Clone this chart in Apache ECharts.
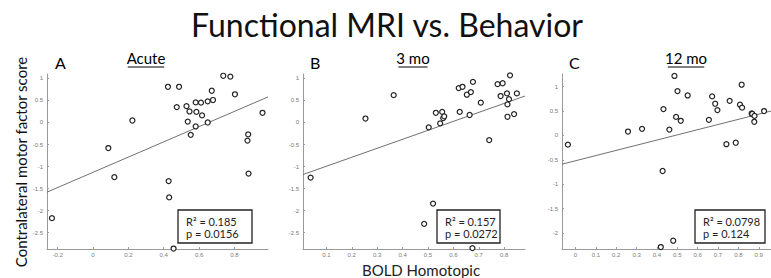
<!DOCTYPE html>
<html>
<head>
<meta charset="utf-8">
<script src="https://cdn.jsdelivr.net/npm/echarts@6/dist/echarts.min.js"></script>
<style>
  html, body { margin: 0; padding: 0; background: #fff; }
  #chart { width: 771px; height: 278px; }
</style>
</head>
<body>
<div id="chart"></div>
<script>
// values
const acuteX = [-0.232, 0.087, 0.121, 0.223, 0.424, 0.487, 0.474, 0.529, 0.546, 0.536, 0.553, 0.581, 0.611, 0.585, 0.581,
    0.617, 0.649, 0.649, 0.672, 0.679, 0.737, 0.777, 0.803, 0.959, 0.878, 0.874, 0.88, 0.428, 0.431, 0.456];
const acuteY = [-2.17, -0.58, -1.24, 0.045, 0.81, 0.81, 0.35, 0.37, 0.25, 0.02, -0.28, 0.455, 0.45, 0.24, -0.09,
    0.16, 0.48, 0.0, 0.72, 0.51, 1.06, 1.04, 0.64, 0.22, -0.27, -0.41, -1.16, -1.33, -1.70, -2.86];

const mo3X = [0.038, 0.254, 0.365, 0.503, 0.531, 0.548, 0.556, 0.56, 0.564, 0.621, 0.636, 0.677, 0.653, 0.669, 0.625, 0.664,
    0.708, 0.741, 0.774, 0.794, 0.823, 0.786, 0.811, 0.819, 0.813, 0.813, 0.839, 0.85, 0.52, 0.485, 0.675];
const mo3Y = [-1.25, 0.09, 0.62, -0.11, 0.22, -0.02, 0.24, 0.10, 0.14, 0.78, 0.81, 0.92, 0.63, 0.69, 0.24, 0.17,
    0.45, -0.40, 0.87, 0.89, 1.07, 0.60, 0.66, 0.53, 0.41, 0.13, 0.19, 0.66, -1.84, -2.30, -2.85];

const mo12X = [-0.037, 0.258, 0.327, 0.432, 0.428, 0.461, 0.486, 0.501, 0.494, 0.517, 0.551, 0.655, 0.671, 0.686,
    0.697, 0.757, 0.741, 0.787, 0.816, 0.808, 0.818, 0.865, 0.868, 0.879, 0.878, 0.926, 0.419, 0.48];
const mo12Y = [-0.19, 0.08, 0.135, 0.54, -0.73, 0.12, 1.22, 0.91, 0.38, 0.30, 0.82, 0.32, 0.80, 0.65,
    0.52, 0.71, -0.18, -0.15, 1.04, 0.63, 0.57, 0.45, 0.44, 0.40, 0.28, 0.50, -2.29, -2.16];

// regression line end points
const acuteFit = [[-0.26, -1.58], [0.99, 0.58]];
const mo3Fit = [[0.008, -1.18], [0.882, 0.60]];
const mo12Fit = [[-0.066, -0.59], [0.96, 0.50]];

const panelNames = ['Acute', '3 mo', '12 mo'];
const panelLetters = ['A', 'B', 'C'];
const rSquared = ['0.185', '0.157', '0.0798'];
const pValues = ['0.0156', '0.0272', '0.124'];

const ticksAX = [-0.2, 0, 0.2, 0.4, 0.6, 0.8];
const ticksBX = [0.1, 0.2, 0.3, 0.4, 0.5, 0.6, 0.7, 0.8];
const ticksCX = [0, 0.1, 0.2, 0.3, 0.4, 0.5, 0.6, 0.7, 0.8, 0.9];
const ticksABY = [1, 0.5, 0, -0.5, -1, -1.5, -2, -2.5];
const ticksCY = [1, 0.5, 0, -0.5, -1, -1.5, -2];

const font = 'Lato, "Open Sans", sans-serif';

function pairs(xs, ys) {
    return xs.map((x, i) => [x, ys[i]]);
}

function makeAxis(min, max, ticks, grid, isY) {
    return {
        type: 'value',
        gridIndex: grid,
        min: min,
        max: max,
        axisLine: { show: true, onZero: false, lineStyle: { color: '#9a9a9a', width: 1 } },
        axisTick: { show: true, inside: true, length: 2, customValues: ticks, lineStyle: { color: '#9a9a9a' } },
        axisLabel: {
            customValues: ticks,
            fontSize: 6,
            color: '#7a7a7a',
            fontFamily: 'Arial, sans-serif',
            margin: isY ? 4 : 3
        },
        splitLine: { show: false }
    };
}

function scatter(data, idx) {
    return {
        type: 'scatter',
        xAxisIndex: idx,
        yAxisIndex: idx,
        data: data,
        symbol: 'circle',
        symbolSize: 5,
        itemStyle: { color: '#fff', borderColor: '#222', borderWidth: 1.2, opacity: 1 },
        emphasis: { disabled: true },
        z: 3
    };
}

function fitLine(data, idx) {
    return {
        type: 'line',
        xAxisIndex: idx,
        yAxisIndex: idx,
        data: data,
        showSymbol: false,
        lineStyle: { color: '#707070', width: 1 },
        z: 2
    };
}

// panel label, underlined name and stats box
const panelLayout = [
    { letterX: 55, nameX: 146, boxX: 178, boxW: 74 },
    { letterX: 310, nameX: 413, boxX: 437, boxW: 63 },
    { letterX: 569, nameX: 686, boxX: 695, boxW: 70 }
];

const graphics = [];
panelLayout.forEach((p, i) => {
    graphics.push({
        type: 'text', left: p.letterX, top: 54,
        style: { text: panelLetters[i], font: '16px ' + font, fill: '#000' }
    });
    graphics.push({
        type: 'text', x: p.nameX, y: 50,
        style: { text: panelNames[i], font: '15px ' + font, fill: '#000', align: 'center', verticalAlign: 'top' }
    });
    const w = panelNames[i].length * 7.3;
    graphics.push({
        type: 'line',
        shape: { x1: p.nameX - w / 2, y1: 67, x2: p.nameX + w / 2, y2: 67 },
        style: { stroke: '#000', lineWidth: 1 }
    });
    graphics.push({
        type: 'rect',
        shape: { x: p.boxX, y: 210, width: p.boxW, height: 33 },
        style: { fill: '#fff', stroke: '#222', lineWidth: 1.3 },
        z: 10
    });
    graphics.push({
        type: 'text', x: p.boxX + 8, y: 221,
        style: { text: 'R\u00b2 = ' + rSquared[i], font: '11px ' + font, fill: '#222', verticalAlign: 'middle' },
        z: 11
    });
    graphics.push({
        type: 'text', x: p.boxX + 8, y: 233,
        style: { text: 'p = ' + pValues[i], font: '11px ' + font, fill: '#222', verticalAlign: 'middle' },
        z: 11
    });
});

graphics.push({
    type: 'text', x: 387, y: 24,
    style: { text: 'Functional MRI vs. Behavior', font: '32px ' + font, fill: '#111', align: 'center', verticalAlign: 'middle' }
});
graphics.push({
    type: 'text', x: 421, y: 270,
    style: { text: 'BOLD Homotopic', font: '15px ' + font, fill: '#222', align: 'center', verticalAlign: 'middle' }
});
graphics.push({
    type: 'text', x: 21, y: 162, rotation: Math.PI / 2,
    style: { text: 'Contralateral motor factor score', font: '15px ' + font, fill: '#111', align: 'center', verticalAlign: 'middle' }
});

const myChart = echarts.init(document.getElementById('chart'), null, { renderer: 'svg' });
const option = {
    animation: false,
    backgroundColor: '#fff',
    grid: [
        { left: 47, top: 74, width: 221, height: 175 },
        { left: 303, top: 74, width: 222, height: 175 },
        { left: 562, top: 74, width: 212, height: 175 }
    ],
    xAxis: [
        makeAxis(-0.26, 0.99, ticksAX, 0, false),
        makeAxis(0.008, 0.882, ticksBX, 1, false),
        makeAxis(-0.066, 0.96, ticksCX, 2, false)
    ],
    yAxis: [
        makeAxis(-2.87, 1.1, ticksABY, 0, true),
        makeAxis(-2.87, 1.1, ticksABY, 1, true),
        makeAxis(-2.33, 1.26, ticksCY, 2, true)
    ],
    series: [
        fitLine(acuteFit, 0),
        scatter(pairs(acuteX, acuteY), 0),
        fitLine(mo3Fit, 1),
        scatter(pairs(mo3X, mo3Y), 1),
        fitLine(mo12Fit, 2),
        scatter(pairs(mo12X, mo12Y), 2)
    ],
    graphic: graphics
};
myChart.setOption(option);
</script>
</body>
</html>
